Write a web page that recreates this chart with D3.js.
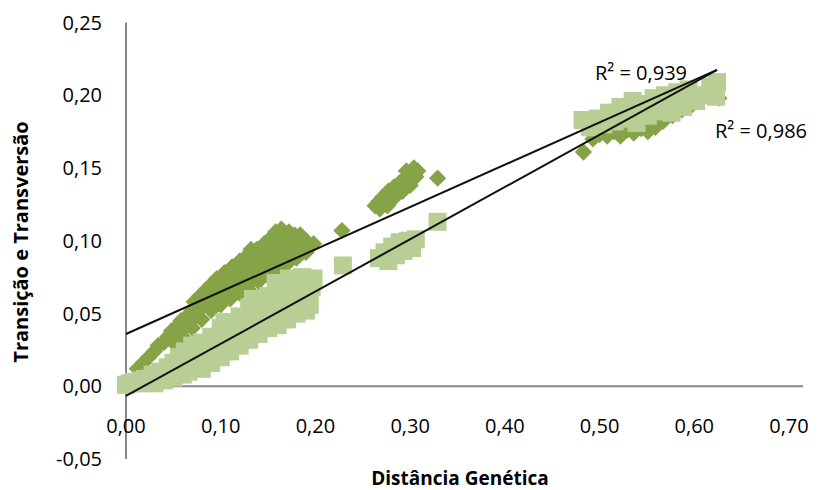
<!DOCTYPE html>
<html>
<head>
<meta charset="utf-8">
<script src="https://cdn.jsdelivr.net/npm/d3@7"></script>
<style>
  body { margin: 0; background: #fff; }
  text { font-family: "Open Sans", sans-serif; fill: #000; }
</style>
</head>
<body>
<div id="chart"></div>
<script>
// ---- dados ----
// losangos (verde escuro): [distância, transição e transversão]
var diamonds = [
  [0.012,0.012],[0.018,0.016],[0.024,0.020],[0.030,0.024],[0.034,0.028],[0.040,0.030],
  [0.044,0.034],[0.048,0.038],[0.052,0.036],[0.055,0.042],[0.058,0.045],[0.062,0.040],
  [0.064,0.048],[0.068,0.044],[0.070,0.052],[0.074,0.050],[0.076,0.056],[0.080,0.054],
  [0.082,0.060],[0.086,0.058],[0.088,0.064],[0.092,0.062],[0.094,0.068],[0.098,0.060],
  [0.100,0.066],[0.102,0.072],[0.106,0.064],[0.108,0.070],[0.110,0.076],[0.114,0.068],
  [0.116,0.074],[0.118,0.080],[0.122,0.072],[0.124,0.078],[0.126,0.084],[0.130,0.070],
  [0.132,0.076],[0.134,0.082],[0.136,0.088],[0.140,0.080],[0.142,0.086],[0.144,0.092],
  [0.148,0.078],[0.150,0.084],[0.152,0.090],[0.156,0.096],[0.158,0.086],[0.160,0.092],
  [0.162,0.100],[0.166,0.104],[0.166,0.088],[0.168,0.096],[0.170,0.104],[0.174,0.092],
  [0.176,0.100],[0.180,0.096],[0.182,0.102],[0.186,0.098],[0.190,0.100],[0.194,0.096],
  [0.198,0.098],
  [0.072,0.058],[0.078,0.062],[0.084,0.066],[0.090,0.070],[0.096,0.074],[0.104,0.078],
  [0.112,0.082],[0.120,0.086],[0.128,0.090],[0.132,0.094],[0.138,0.094],[0.146,0.098],
  [0.150,0.100],[0.154,0.102],[0.158,0.106],[0.164,0.108],[0.172,0.106],[0.178,0.104],
  [0.184,0.104],
  [0.050,0.030],[0.060,0.034],[0.070,0.040],[0.080,0.046],[0.090,0.052],[0.100,0.056],
  [0.110,0.060],[0.120,0.064],[0.130,0.066],[0.140,0.072],[0.150,0.076],[0.160,0.080],
  [0.170,0.084],[0.180,0.088],[0.190,0.092],
  [0.228,0.107],[0.263,0.124],[0.267,0.127],[0.271,0.130],[0.275,0.128],[0.277,0.134],
  [0.281,0.132],[0.283,0.137],[0.287,0.135],[0.289,0.140],[0.293,0.138],[0.295,0.143],
  [0.300,0.141],[0.302,0.146],[0.306,0.144],[0.308,0.148],[0.329,0.143],
  [0.268,0.122],[0.272,0.126],[0.276,0.124],[0.284,0.130],[0.292,0.134],[0.300,0.138],
  [0.296,0.148],[0.304,0.150],
  [0.483,0.161],[0.493,0.170],[0.500,0.173],[0.508,0.172],[0.515,0.175],[0.522,0.172],
  [0.529,0.176],[0.536,0.174],[0.544,0.177],[0.551,0.175],[0.559,0.178],[0.567,0.182],
  [0.577,0.186],[0.587,0.190],[0.597,0.193],[0.607,0.198],[0.616,0.200],[0.626,0.198]
];
// quadrados (verde claro)
var squares = [
  [0.000,0.001],[0.004,0.002],[0.008,0.003],[0.012,0.002],[0.016,0.004],[0.020,0.005],
  [0.024,0.004],[0.028,0.008],[0.032,0.006],[0.036,0.010],[0.040,0.008],[0.044,0.013],
  [0.048,0.010],[0.050,0.016],[0.054,0.012],[0.056,0.020],[0.060,0.014],[0.062,0.024],
  [0.066,0.010],[0.068,0.018],[0.070,0.028],[0.074,0.014],[0.076,0.022],[0.080,0.030],
  [0.084,0.016],[0.086,0.026],[0.090,0.034],[0.094,0.020],[0.096,0.030],[0.100,0.040],
  [0.104,0.024],[0.106,0.034],[0.110,0.044],[0.114,0.028],[0.116,0.038],[0.120,0.048],
  [0.124,0.032],[0.126,0.042],[0.130,0.054],[0.134,0.036],[0.136,0.046],[0.140,0.058],
  [0.144,0.040],[0.146,0.050],[0.150,0.062],[0.154,0.042],[0.156,0.054],[0.160,0.066],
  [0.164,0.046],[0.166,0.058],[0.170,0.070],[0.174,0.050],[0.176,0.062],[0.180,0.072],
  [0.184,0.054],[0.186,0.066],[0.190,0.074],[0.194,0.056],[0.196,0.068],[0.198,0.074],
  [0.030,0.002],[0.040,0.004],[0.050,0.006],[0.060,0.008],[0.080,0.012],[0.090,0.016],
  [0.100,0.020],[0.110,0.024],[0.120,0.028],[0.130,0.032],[0.140,0.036],[0.150,0.040],
  [0.160,0.042],[0.170,0.046],[0.180,0.050],[0.190,0.052],
  [0.104,0.044],[0.134,0.060],[0.158,0.071],[0.172,0.074],[0.186,0.075],
  [0.229,0.083],[0.267,0.088],[0.273,0.092],[0.277,0.086],[0.281,0.096],[0.285,0.090],
  [0.289,0.099],[0.293,0.093],[0.298,0.100],[0.302,0.095],[0.306,0.101],[0.329,0.113],
  [0.482,0.183],[0.490,0.178],[0.498,0.184],[0.504,0.180],[0.510,0.188],[0.516,0.182],
  [0.522,0.192],[0.529,0.184],[0.535,0.196],[0.539,0.181],[0.545,0.194],[0.551,0.186],
  [0.557,0.198],[0.563,0.189],[0.569,0.200],[0.576,0.188],[0.582,0.202],[0.588,0.192],
  [0.594,0.204],[0.602,0.196],[0.610,0.200],[0.617,0.206],[0.624,0.209],[0.623,0.199]
];
// linhas de tendência: [intercepto, inclinação, x final]
var trendDiamonds = [0.0359, 0.2909, 0.624];
var trendSquares  = [-0.0067, 0.3591, 0.624];
var r2Labels = ["R² = 0,939", "R² = 0,986"];
var xTicks = [0, 0.1, 0.2, 0.3, 0.4, 0.5, 0.6, 0.7];
var yTicks = [-0.05, 0, 0.05, 0.10, 0.15, 0.20, 0.25];

var width = 825, height = 490;
var svg = d3.select("#chart").append("svg")
  .attr("width", width)
  .attr("height", height);

var x = d3.scaleLinear().domain([0, 0.7]).range([126, 789]);
var y = d3.scaleLinear().domain([-0.05, 0.25]).range([459, 22.5]);
var fmt = function(d) {
  return d3.format(".2f")(d).replace(".", ",").replace("\u2212", "-");
};

// eixos
var axisColor = "#878787";
svg.append("line")
  .attr("x1", x(0)).attr("x2", x(0))
  .attr("y1", y(0.25)).attr("y2", y(-0.05))
  .style("stroke", axisColor).style("stroke-width", 2);
svg.append("line")
  .attr("x1", x(0)).attr("x2", x(0.715))
  .attr("y1", y(0)).attr("y2", y(0))
  .style("stroke", axisColor).style("stroke-width", 2);

svg.selectAll(".ytick").data(yTicks).enter().append("text")
  .attr("class", "ytick")
  .attr("x", x(0) - 24)
  .attr("y", function(d) { return y(d); })
  .attr("dy", "0.35em")
  .style("text-anchor", "end")
  .style("font-size", "20px")
  .text(fmt);

svg.selectAll(".xtick").data(xTicks).enter().append("text")
  .attr("class", "xtick")
  .attr("x", function(d) { return x(d); })
  .attr("y", y(0) + 47)
  .style("text-anchor", "middle")
  .style("font-size", "20px")
  .text(fmt);

// pontos: losangos primeiro, quadrados por cima
svg.append("g").selectAll("path").data(diamonds).enter().append("path")
  .attr("d", d3.symbol().type(d3.symbolSquare).size(150))
  .attr("transform", function(d) {
    return "translate(" + x(d[0]) + "," + y(d[1]) + ") rotate(45)";
  })
  .style("fill", "#86A447");

svg.append("g").selectAll("rect").data(squares).enter().append("rect")
  .attr("x", function(d) { return x(d[0]) - 9; })
  .attr("y", function(d) { return y(d[1]) - 9; })
  .attr("width", 18).attr("height", 18)
  .style("fill", "#B8CE94");

// tendências
var line = d3.line()
  .x(function(d) { return x(d[0]); })
  .y(function(d) { return y(d[1]); });
[trendDiamonds, trendSquares].forEach(function(t) {
  svg.append("path")
    .datum([[0, t[0]], [t[2], t[0] + t[1] * t[2]]])
    .attr("d", line)
    .style("fill", "none")
    .style("stroke", "#111")
    .style("stroke-width", 2);
});

svg.append("text").attr("x", 595).attr("y", 80)
  .style("font-size", "20px").text(r2Labels[0]);
svg.append("text").attr("x", 715).attr("y", 138)
  .style("font-size", "20px").text(r2Labels[1]);

// títulos
svg.append("text")
  .attr("x", 460).attr("y", 485)
  .style("text-anchor", "middle")
  .style("font-size", "19px").style("font-weight", "bold")
  .text("Distância Genética");
svg.append("text")
  .attr("transform", "translate(28," + 242 + ") rotate(-90)")
  .style("text-anchor", "middle")
  .style("font-size", "20px").style("font-weight", "bold")
  .text("Transição e Transversão");
</script>
</body>
</html>
